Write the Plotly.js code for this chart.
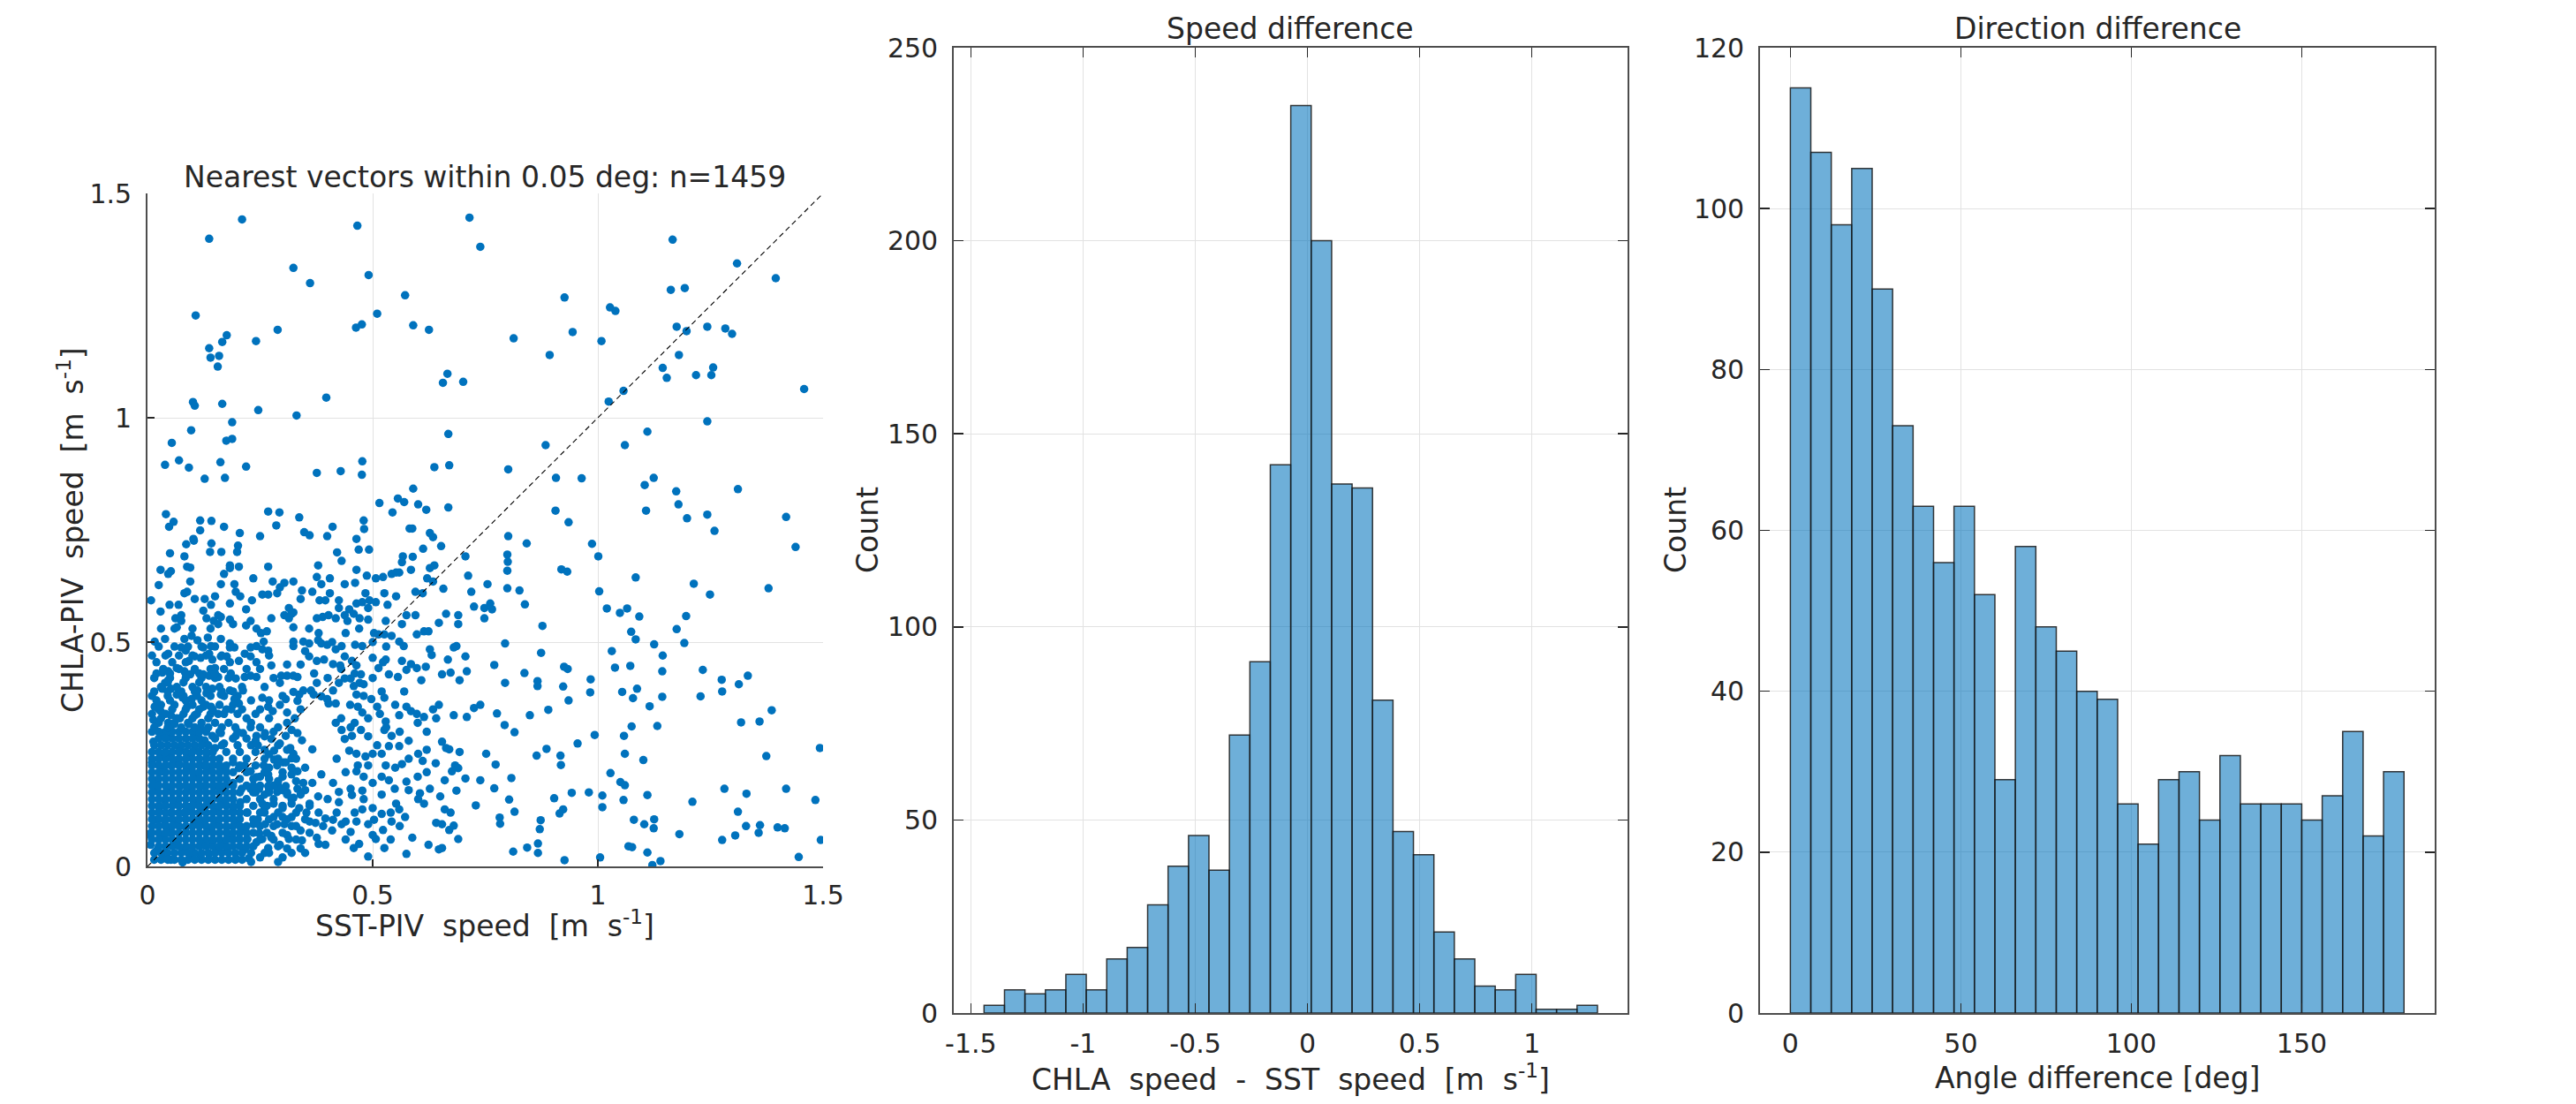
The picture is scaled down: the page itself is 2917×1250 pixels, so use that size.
<!DOCTYPE html>
<html>
<head>
<meta charset="utf-8">
<script src="https://cdn.plot.ly/plotly-3.0.1.min.js"></script>
<style>html,body{margin:0;padding:0;background:#fff;}#chart{width:2917px;height:1250px;}</style>
</head>
<body>
<div id="chart"></div>
<script>
// ---------------- DATA ----------------
// Scatter: [SST-PIV speed, CHLA-PIV speed] (m/s)
const upperPts = [
[.210,1.442],[.137,1.399],[.466,1.428],[.715,1.446],[.739,1.381],[.324,1.334],[.361,1.300],[.491,1.318],[.572,1.273],[.107,1.228],[.510,1.232],[.590,1.206],[.625,1.196],[.463,1.201],[.476,1.208],[.289,1.196],[.241,1.171],[.176,1.184],[.166,1.169],[.137,1.155],[.159,1.138],[.140,1.134],[.156,1.114],[.813,1.177],[.666,1.098],[.656,1.078],[.701,1.080],[.101,1.035],[.105,1.027],[.166,1.031],[.246,1.017],[.397,1.045],[.331,1.005],[.188,.990],[.097,.972],[.054,.944],[.175,.949],[.188,.953],[.668,.964],[.039,.895],[.070,.905],[.092,.889],[.162,.901],[.127,.864],[.172,.866],[.219,.891],[.376,.877],[.429,.881],[.477,.903],[.476,.873],[.637,.890],[.670,.894],[.801,.885],[.590,.842],[.515,.810],[.556,.820],[.570,.812],[.601,.807],[.619,.795],[.668,.800],[.544,.789],[.041,.785],[.058,.768],[.048,.757],[.117,.771],[.117,.749],[.142,.770],[.170,.757],[.205,.743],[.268,.791],[.293,.789],[.286,.760],[.337,.778],[.348,.745],[.360,.738],[.411,.757],[.399,.736],[.250,.736],[.480,.771],[.481,.752],[.464,.730],[.492,.706],[.469,.706],[.421,.700],[.086,.718],[.102,.730],[.103,.726],[.142,.720],[.201,.715],[.199,.701],[.139,.701],[.164,.701],[.050,.698],[.082,.691],[.706,.691],[.582,.753],[.588,.753],[.627,.743],[.634,.734],[.652,.714],[.612,.708],[.589,.690],[.567,.691],[.801,.736],[.842,.720],[.799,.695]
];
const rightPts = [
[.926,1.268],[.944,1.191],[.893,1.140],[1.008,1.171],[1.027,1.246],[1.039,1.238],[1.166,1.397],[1.162,1.285],[1.193,1.289],[1.197,1.193],[1.180,1.140],[1.175,1.203],[1.144,1.111],[1.153,1.089],[1.218,1.095],[1.252,1.095],[1.256,1.112],[1.243,1.203],[1.283,1.199],[1.298,1.187],[1.309,1.344],[1.395,1.311],[1.458,1.064],[1.057,1.060],[1.024,1.036],[1.243,.992],[.884,.939],[.907,.866],[.964,.865],[1.060,.939],[1.110,.969],[1.104,.850],[1.124,.866],[1.174,.836],[1.311,.841],[1.179,.807],[1.198,.776],[1.107,.793],[1.243,.784],[1.259,.748],[1.418,.779],[1.439,.712],[.906,.793],[.935,.767],[.987,.719],[1.001,.691],
[1.379,.620],[1.084,.644],[1.003,.613],[.919,.662],[.932,.657],[1.213,.630],[1.249,.606],[1.196,.558],[1.175,.529],[1.192,.498],[1.074,.523],[1.084,.506],[1.065,.575],[1.092,.557],[1.049,.565],[1.020,.575],[1.125,.495],[1.144,.470],[1.031,.480],[1.038,.443],[1.072,.447],[1.054,.389],[1.087,.396],[1.078,.375],[1.143,.435],[1.233,.438],[1.228,.379],[1.275,.416],[1.276,.390],[1.313,.406],[1.333,.425],[1.115,.357],[1.132,.313],[1.143,.378],[1.075,.312],[1.058,.291],[1.060,.251],[1.101,.237],[1.110,.159],[1.050,.188],[1.060,.181],[1.057,.148],[1.080,.104],[1.103,.094],[1.125,.105],[1.124,.085],[1.110,.031],[1.139,.012],[1.121,.003],[1.068,.045],[1.076,.043],[.980,.165],[1.010,.158],[1.005,.020],[.926,.014],[.915,.118],[.923,.127],[.903,.152],[.873,.103],[.871,.083],[.867,.051],[.867,.030],[.843,.042],[.812,.033],[.815,.122],[.783,.095],[.782,.109],[.770,.174],[.803,.149],[.808,.197],[.773,.227],[.918,.226],[.917,.247],[.886,.262],[.864,.247],[.890,.349],[.955,.274],[.993,.293],[.983,.388],[.984,.417],[.935,.370],[.933,.440],[.925,.445],[.923,.401],[.874,.476],[.837,.431],[.849,.337],[.815,.299],[.793,.315],[.776,.341],[.794,.409],[.770,.449],[.794,.497],[.866,.413],[.866,.402],[.877,.536],[.838,.584],[.826,.615],[.800,.679],[.799,.659],[.799,.620],[1.359,.323],[1.318,.321],[1.386,.348],[1.374,.246],[1.330,.162],[1.311,.122],[1.329,.090],[1.360,.092],[1.357,.075],[1.399,.087],[1.418,.173],[1.415,.085],[1.446,.021],[1.483,.148],[1.493,.264],[1.495,.059],[1.281,.173],[1.276,.059],[1.305,.069],[1.210,.144],[1.181,.072],[1.028,.208],[1.010,.132],[.942,.164]
];
const midPts = [
[.431,.681],[.052,.658],[.029,.661],[.046,.652],[.088,.668],[.095,.666],[.183,.671],[.203,.668],[.268,.668],[.379,.671],[.565,.678],[.585,.661],[.637,.671],[.464,.661],[.487,.648],
[.008,.593],[.025,.627],[.029,.568],[.049,.583],[.069,.583],[.075,.560],[.062,.553],[.082,.609],[.095,.635],[.088,.612],[.105,.596],[.127,.596],[.124,.570],[.141,.583],[.150,.602],[.163,.629],[.170,.652],[.183,.665],[.193,.629],[.196,.612],[.157,.560],[.163,.556],[.183,.586],[.206,.602],[.219,.573],[.232,.593],[.235,.642],[.255,.606],[.278,.635],[.268,.606],[.288,.609],[.294,.622],[.304,.632],[.324,.635],[.314,.576],[.324,.566],[.340,.596],[.343,.615],[.366,.612],[.376,.645],[.386,.629],[.382,.593],[.395,.593],[.405,.642],[.405,.609],[.425,.593],[.425,.576],[.438,.629],[.448,.573],[.464,.586],[.461,.632],[.484,.609],[.477,.589],[.490,.576],[.493,.593],[.507,.642],[.523,.645],[.526,.609],[.533,.583],[.542,.652],[.552,.655],[.559,.655],[.552,.602],[.507,.589],[.595,.612],[.611,.609],[.621,.642],[.634,.635],[.627,.665],[.657,.619],[.712,.648],[.719,.612],[.725,.579],[.748,.576],[.755,.629],[.761,.586],[.765,.573],[.748,.553],
[.016,.501],[.039,.507],[.046,.474],[.075,.547],[.065,.533],[.082,.507],[.098,.514],[.111,.504],[.134,.510],[.141,.491],[.163,.507],[.131,.553],[.147,.547],[.157,.540],[.183,.550],[.190,.540],[.183,.497],[.193,.488],[.219,.537],[.229,.547],[.242,.530],[.252,.520],[.258,.501],[.265,.524],[.242,.491],[.229,.488],[.275,.553],[.304,.560],[.314,.553],[.324,.533],[.320,.563],[.359,.530],[.376,.553],[.389,.556],[.402,.560],[.418,.553],[.438,.560],[.444,.547],[.458,.563],[.471,.553],[.490,.550],[.503,.520],[.513,.517],[.526,.517],[.529,.547],[.542,.514],[.559,.501],[.565,.540],[.575,.560],[.595,.560],[.598,.517],[.569,.491],[.614,.524],[.624,.524],[.647,.543],[.663,.563],[.690,.560],[.690,.540],[.461,.494],[.477,.491],[.324,.501],[.324,.491],[.346,.501],[.359,.497],[.379,.504],[.386,.497],[.399,.494],[.418,.484],[.431,.491],
[.033,.432],[.039,.409],[.046,.435],[.075,.488],[.085,.481],[.105,.468],[.118,.465],[.137,.474],[.144,.461],[.163,.468],[.176,.468],[.183,.455],[.203,.458],[.216,.474],[.229,.468],[.242,.455],[.255,.484],[.268,.481],[.275,.448],[.297,.425],[.310,.425],[.294,.409],[.324,.425],[.333,.422],[.346,.392],[.359,.468],[.376,.458],[.392,.461],[.412,.451],[.428,.448],[.438,.468],[.454,.458],[.464,.448],[.474,.428],[.451,.419],[.471,.409],[.500,.465],[.513,.442],[.523,.455],[.529,.461],[.536,.428],[.556,.422],[.565,.458],[.575,.438],[.585,.451],[.598,.442],[.608,.415],[.618,.445],[.627,.484],[.631,.471],[.654,.428],[.667,.461],[.673,.432],[.680,.488],[.686,.491],[.706,.468],[.709,.435],[.693,.415],[.046,.415],[.065,.442],[.082,.435],[.095,.428],[.105,.438],[.124,.428],[.137,.425],[.150,.442],[.157,.422],[.196,.419],[.216,.422],[.229,.425],[.242,.422],[.092,.458],[.124,.488],[.183,.488],
[.033,.396],[.016,.356],[.013,.327],[.029,.346],[.052,.396],[.065,.383],[.078,.376],[.088,.356],[.098,.373],[.111,.392],[.131,.386],[.144,.396],[.163,.383],[.183,.392],[.193,.373],[.203,.363],[.212,.392],[.186,.350],[.157,.340],[.141,.356],[.124,.356],[.105,.337],[.072,.330],[.052,.337],[.046,.320],[.255,.376],[.268,.356],[.278,.346],[.294,.360],[.307,.373],[.324,.389],[.337,.383],[.310,.343],[.327,.330],[.333,.369],[.363,.392],[.376,.409],[.369,.383],[.386,.379],[.399,.373],[.412,.392],[.402,.363],[.418,.363],[.425,.409],[.438,.419],[.458,.402],[.464,.383],[.480,.406],[.467,.356],[.477,.343],[.490,.330],[.497,.373],[.510,.356],[.516,.340],[.526,.376],[.529,.323],[.559,.337],[.575,.356],[.585,.346],[.598,.340],[.614,.333],[.634,.350],[.647,.360],[.641,.330],[.680,.337],[.709,.333],[.725,.353],[.739,.360],
[.013,.278],[.010,.232],[.029,.297],[.042,.291],[.059,.317],[.075,.304],[.092,.317],[.105,.297],[.118,.310],[.127,.281],[.144,.291],[.163,.297],[.170,.274],[.150,.264],[.131,.251],[.105,.261],[.088,.251],[.072,.264],[.052,.248],[.033,.251],[.196,.291],[.212,.297],[.229,.310],[.242,.291],[.261,.297],[.275,.284],[.281,.258],[.294,.274],[.307,.291],[.320,.304],[.333,.297],[.343,.281],[.317,.264],[.324,.251],[.366,.261],[.418,.320],[.431,.304],[.451,.310],[.454,.291],[.474,.304],[.438,.284],[.448,.258],[.464,.251],[.484,.245],[.500,.251],[.520,.251],[.526,.304],[.542,.291],[.536,.268],[.559,.268],[.601,.251],[.611,.235],[.654,.278],[.663,.264],[.670,.261],[.693,.255],[.752,.251],[.281,.238],[.301,.232],[.320,.241],
[.020,.192],[.016,.173],[.033,.212],[.052,.225],[.069,.232],[.085,.212],[.098,.219],[.111,.205],[.124,.225],[.137,.215],[.157,.225],[.173,.219],[.190,.232],[.203,.219],[.216,.225],[.229,.212],[.242,.199],[.258,.225],[.268,.205],[.288,.225],[.307,.232],[.320,.205],[.333,.212],[.346,.186],[.366,.186],[.386,.205],[.412,.186],[.425,.166],[.451,.173],[.464,.212],[.467,.225],[.490,.225],[.500,.186],[.477,.169],[.454,.159],[.529,.225],[.536,.192],[.549,.173],[.565,.228],[.575,.189],[.605,.163],[.627,.173],[.650,.156],[.660,.192],[.676,.212],[.683,.225],[.690,.219],[.686,.169],[.706,.196],[.729,.136],[.739,.192],[.052,.173],[.072,.179],[.098,.173],[.124,.179],[.150,.179],[.170,.179],[.190,.186],[.209,.173],[.229,.173],[.248,.173],[.268,.179],[.288,.166],[.307,.179],[.333,.173],
[.007,.074],[.016,.104],[.026,.130],[.039,.146],[.052,.120],[.065,.140],[.082,.120],[.095,.133],[.108,.146],[.124,.127],[.141,.140],[.157,.123],[.173,.140],[.190,.127],[.206,.143],[.222,.120],[.235,.094],[.248,.074],[.261,.094],[.275,.068],[.288,.094],[.304,.094],[.324,.153],[.337,.130],[.353,.120],[.373,.097],[.379,.156],[.395,.107],[.412,.104],[.425,.143],[.431,.094],[.451,.077],[.464,.100],[.477,.127],[.490,.094],[.503,.104],[.520,.117],[.523,.081],[.542,.100],[.552,.140],[.559,.127],[.572,.110],[.601,.150],[.614,.140],[.641,.097],[.654,.094],[.660,.127],[.670,.081],[.673,.120],[.680,.091],[.046,.087],[.065,.094],[.085,.087],[.105,.100],[.121,.094],[.137,.081],[.157,.094],[.176,.087],[.196,.100],[.216,.087],[.039,.100],[.033,.068],[.052,.074],
[.000,.071],[.007,.048],[.020,.035],[.036,.028],[.052,.015],[.078,.009],[.098,.028],[.118,.022],[.137,.028],[.157,.035],[.176,.041],[.196,.018],[.216,.038],[.225,.018],[.242,.054],[.268,.041],[.294,.048],[.314,.061],[.343,.058],[.376,.064],[.395,.048],[.458,.041],[.490,.022],[.507,.061],[.526,.041],[.575,.028],[.588,.064],[.624,.048],[.647,.038],[.654,.041],[.690,.061],[.065,.048],[.085,.041],[.124,.048],[.144,.054],[.163,.054],[.183,.061],[.203,.061],[.222,.061],[.255,.061],[.275,.064]
];
// dense core (bottom-left), read as a near-solid blue mass
const corePts = [
[.03,.015],[.06,.015],[.09,.015],[.12,.015],[.15,.015],[.18,.015],[.21,.015],
[.015,.03],[.045,.03],[.075,.03],[.105,.03],[.135,.03],[.165,.03],[.195,.03],[.23,.03],[.26,.03],
[.025,.045],[.055,.045],[.085,.045],[.115,.045],[.145,.045],[.175,.045],[.205,.045],[.235,.045],[.29,.045],
[.01,.06],[.04,.06],[.07,.06],[.1,.06],[.13,.06],[.16,.06],[.19,.06],[.22,.06],[.25,.06],[.28,.06],[.33,.06],
[.025,.075],[.055,.075],[.085,.075],[.115,.075],[.145,.075],[.175,.075],[.205,.075],[.235,.075],[.265,.075],[.3,.075],[.36,.075],
[.01,.09],[.04,.09],[.07,.09],[.1,.09],[.13,.09],[.16,.09],[.19,.09],[.22,.09],[.25,.09],[.28,.09],[.32,.09],
[.025,.105],[.055,.105],[.085,.105],[.115,.105],[.145,.105],[.175,.105],[.205,.105],[.235,.105],[.27,.105],[.31,.105],[.35,.105],
[.01,.12],[.04,.12],[.07,.12],[.1,.12],[.13,.12],[.16,.12],[.19,.12],[.22,.12],[.25,.12],[.29,.12],[.33,.12],
[.025,.135],[.055,.135],[.085,.135],[.115,.135],[.145,.135],[.175,.135],[.205,.135],[.235,.135],[.265,.135],[.3,.135],[.36,.135],
[.01,.15],[.04,.15],[.07,.15],[.1,.15],[.13,.15],[.16,.15],[.19,.15],[.22,.15],[.25,.15],[.28,.15],[.32,.15],
[.025,.165],[.055,.165],[.085,.165],[.115,.165],[.145,.165],[.175,.165],[.205,.165],[.235,.165],[.27,.165],[.31,.165],
[.01,.18],[.04,.18],[.07,.18],[.1,.18],[.13,.18],[.16,.18],[.19,.18],[.22,.18],[.25,.18],[.29,.18],
[.025,.195],[.055,.195],[.085,.195],[.115,.195],[.145,.195],[.175,.195],[.205,.195],[.235,.195],[.27,.195],
[.01,.21],[.04,.21],[.07,.21],[.1,.21],[.13,.21],[.16,.21],[.19,.21],[.22,.21],[.26,.21],[.3,.21],
[.025,.225],[.055,.225],[.085,.225],[.115,.225],[.145,.225],[.175,.225],[.205,.225],[.24,.225],
[.01,.24],[.04,.24],[.07,.24],[.1,.24],[.13,.24],[.16,.24],[.19,.24],[.22,.24],[.26,.24],
[.025,.255],[.055,.255],[.085,.255],[.115,.255],[.145,.255],[.175,.255],[.205,.255],[.24,.255],
[.015,.27],[.045,.27],[.075,.27],[.105,.27],[.135,.27],[.165,.27],[.2,.27],[.23,.27],
[.025,.285],[.055,.285],[.085,.285],[.115,.285],[.15,.285],[.19,.285],[.22,.285],
[.01,.30],[.04,.30],[.07,.30],[.1,.30],[.13,.30],[.16,.30],[.2,.30],
[.025,.32],[.06,.32],[.09,.32],[.12,.32],[.15,.32],[.18,.32],
[.01,.34],[.04,.34],[.08,.34],[.11,.34],[.14,.34],[.17,.34],[.2,.34],
[.03,.36],[.06,.36],[.1,.36],[.13,.36],[.16,.36],[.19,.36],
[.01,.38],[.045,.38],[.08,.38],[.11,.38],[.14,.38],[.17,.38],[.2,.38],
[.03,.40],[.065,.40],[.1,.40],[.13,.40],[.16,.40],
[.015,.42],[.05,.42],[.085,.42],[.12,.42],[.15,.42],[.18,.42],
[.035,.44],[.07,.44],[.105,.44],[.14,.44],[.17,.44]
];
const corePtsB = [
[.015,.015],[.045,.015],[.075,.015],[.105,.015],[.135,.015],[.165,.015],[.195,.015],
[.03,.03],[.06,.03],[.09,.03],[.12,.03],[.15,.03],[.18,.03],[.21,.03],
[.04,.045],[.07,.045],[.1,.045],[.13,.045],[.16,.045],[.19,.045],[.22,.045],
[.025,.06],[.055,.06],[.085,.06],[.115,.06],[.145,.06],[.175,.06],[.205,.06],
[.01,.075],[.04,.075],[.07,.075],[.1,.075],[.13,.075],[.16,.075],[.19,.075],[.22,.075],
[.025,.09],[.055,.09],[.085,.09],[.115,.09],[.145,.09],[.175,.09],[.205,.09],
[.01,.105],[.04,.105],[.07,.105],[.1,.105],[.13,.105],[.16,.105],[.19,.105],
[.025,.12],[.055,.12],[.085,.12],[.115,.12],[.145,.12],[.175,.12],[.205,.12],
[.01,.135],[.04,.135],[.07,.135],[.1,.135],[.13,.135],[.16,.135],[.19,.135],
[.025,.15],[.055,.15],[.085,.15],[.115,.15],[.145,.15],[.175,.15],
[.01,.165],[.04,.165],[.07,.165],[.1,.165],[.13,.165],[.16,.165],[.19,.165],
[.025,.18],[.055,.18],[.085,.18],[.115,.18],[.145,.18],[.175,.18],
[.01,.195],[.04,.195],[.07,.195],[.1,.195],[.13,.195],[.16,.195],
[.025,.21],[.055,.21],[.085,.21],[.115,.21],[.145,.21],[.175,.21],
[.01,.225],[.04,.225],[.07,.225],[.1,.225],[.13,.225],[.16,.225],
[.025,.24],[.055,.24],[.085,.24],[.115,.24],[.145,.24],
[.01,.255],[.04,.255],[.07,.255],[.1,.255],[.13,.255],
[.03,.27],[.06,.27],[.09,.27],[.12,.27],
[.04,.285],[.07,.285],[.1,.285],
[.025,.30],[.055,.30],[.085,.30],[.115,.30],
[.03,.33],[.065,.33],[.1,.33],[.135,.33],
[.02,.37],[.05,.37],[.085,.37],[.12,.37],
[.045,.41],[.08,.41],[.115,.41],
[.02,.455],[.055,.455],[.085,.455]
];
// upper part of the dense blob (left side, 0.3-0.55) and its right fringe
const corePtsC = [
[.015,.31],[.045,.31],[.075,.31],[.105,.31],[.135,.31],[.165,.31],[.195,.31],
[.025,.35],[.055,.35],[.085,.35],[.115,.35],[.145,.35],[.175,.35],[.21,.35],
[.015,.39],[.045,.39],[.075,.39],[.105,.39],[.135,.39],[.165,.39],[.19,.39],
[.02,.43],[.05,.43],[.085,.43],[.115,.43],[.15,.43],[.185,.43],
[.01,.47],[.04,.47],[.07,.47],[.1,.47],[.13,.47],[.165,.47],
[.025,.49],[.06,.49],[.09,.49],[.12,.49],[.15,.49],
[.03,.53],[.06,.53],[.1,.53],[.14,.53]
];
const fringePts = [
[.23,.01],[.25,.02],[.27,.03],[.29,.01],[.31,.04],[.245,.105],[.255,.14],[.24,.165],[.235,.18],[.25,.2],[.26,.16],[.28,.18],[.3,.2],[.32,.22],[.27,.22],[.29,.24],[.31,.26],[.245,.27],[.26,.29],[.28,.3],[.23,.32],[.25,.35],[.27,.37],[.3,.38],[.26,.13],[.3,.13],[.32,.11],[.34,.08],[.31,.07],[.28,.11],[.27,.17],[.3,.17],[.33,.19],[.35,.17],[.34,.04]
];
const spreadPts = [
[.26,.12],[.28,.14],[.30,.11],[.32,.14],[.29,.19],[.31,.16],[.27,.25],[.29,.27],[.33,.24],[.35,.22],[.34,.16],[.36,.14],[.38,.12],[.40,.15],[.42,.12],[.44,.10],[.41,.08],[.38,.05],[.35,.03],[.32,.03],[.30,.02],[.33,.09],[.36,.10],[.39,.09],[.44,.06],[.47,.05],[.46,.12],[.48,.15],[.50,.13],[.52,.16],[.50,.07],[.54,.06],[.56,.09],[.54,.12],[.58,.17],[.60,.20],[.62,.21],[.58,.24],[.55,.22],[.52,.20],[.48,.20],[.44,.21],[.42,.24],[.43,.33],[.46,.32],[.49,.29],[.51,.27],[.53,.31],[.56,.30],[.58,.28],[.62,.26],[.64,.23],[.62,.30],[.60,.32],[.57,.39],[.55,.36],[.52,.39],[.50,.42],[.48,.38],[.45,.36],[.34,.35],[.31,.32],[.29,.31],[.27,.33],[.26,.40],[.28,.42],[.31,.45],[.34,.45],[.37,.43],[.40,.42],[.43,.44],[.46,.43],[.35,.48],[.38,.52],[.41,.50],[.44,.52],[.47,.53],[.50,.50],[.53,.49],[.27,.47],[.25,.44],[.22,.44],[.21,.40],[.23,.37],[.24,.34],[.22,.33],[.25,.31],[.26,.26],[.24,.28]
];

// Histogram of speed difference (CHLA - SST), 30 bins
const speedBinStart = -1.441;
const speedBinWidth = 0.0911;
const speedCounts = [2,6,5,6,10,6,14,17,28,38,46,37,72,91,142,235,200,137,136,81,47,41,21,14,7,6,10,1,1,2];

// Histogram of direction difference, 30 bins of 6 deg
const angleBinStart = 0;
const angleBinWidth = 6;
const angleCounts = [115,107,98,105,90,73,63,56,63,52,29,58,48,45,40,39,26,21,29,30,24,32,26,26,26,24,27,35,22,30];

// Tick labels
const scatterTicks = [0, 0.5, 1, 1.5];
const scatterTickText = ['0', '0.5', '1', '1.5'];
const speedXTicks = [-1.5, -1, -0.5, 0, 0.5, 1];
const speedXTickText = ['-1.5', '-1', '-0.5', '0', '0.5', '1'];
const speedYTicks = [0, 50, 100, 150, 200, 250];
const angleXTicks = [0, 50, 100, 150];
const angleYTicks = [0, 20, 40, 60, 80, 100, 120];

// ---------------- PLOT ----------------
const allPts = upperPts.concat(rightPts, midPts, corePts, corePtsB, corePtsC, fringePts, spreadPts);
const scX = allPts.map(p => p[0]);
const scY = allPts.map(p => p[1]);

const speedX = speedCounts.map((c, i) => speedBinStart + (i + 0.5) * speedBinWidth);
const angleX = angleCounts.map((c, i) => angleBinStart + (i + 0.5) * angleBinWidth);

const FONT = '"DejaVu Sans", sans-serif';
const TXT = '#262626';
const barFill = 'rgba(0,114,189,0.57)';
const barEdge = 'rgba(25,25,25,0.85)';
const LBL = 33;

const traces = [
  {type: 'scatter', mode: 'markers', x: scX, y: scY, xaxis: 'x', yaxis: 'y',
   marker: {size: 9.5, color: '#0072BD', line: {width: 0}}, hoverinfo: 'x+y'},
  {type: 'scatter', mode: 'lines', x: [scatterTicks[0], scatterTicks[3]], y: [scatterTicks[0], scatterTicks[3]],
   xaxis: 'x', yaxis: 'y', line: {color: '#000', width: 1.1, dash: '6px,4px'}, hoverinfo: 'skip'},
  {type: 'bar', x: speedX, y: speedCounts, width: speedBinWidth, xaxis: 'x2', yaxis: 'y2',
   marker: {color: barFill, line: {color: barEdge, width: 1.5}}},
  {type: 'bar', x: angleX, y: angleCounts, width: angleBinWidth, xaxis: 'x3', yaxis: 'y3',
   marker: {color: barFill, line: {color: barEdge, width: 1.5}}}
];

function ax(extra) {
  return Object.assign({
    showgrid: true, gridcolor: '#e2e2e2', gridwidth: 1,
    zeroline: false, showline: true, linecolor: '#4d4d4d', linewidth: 1.8,
    ticks: 'inside', tickcolor: '#262626', tickwidth: 1.5,
    tickfont: {family: FONT, size: 30, color: TXT},
    ticklabelstandoff: 10,
    fixedrange: true
  }, extra);
}

const W = 2917, H = 1250;
const px = v => v / W;
const py = v => 1 - v / H;
function note(text, x, y, angle) {
  return {text: text, x: px(x), y: py(y), xref: 'paper', yref: 'paper', xanchor: 'center', yanchor: 'middle',
          textangle: angle || 0, showarrow: false, font: {family: FONT, size: LBL, color: TXT}};
}

const layout = {
  width: W, height: H,
  margin: {l: 0, r: 0, t: 0, b: 0, pad: 0},
  paper_bgcolor: '#fff', plot_bgcolor: 'rgba(0,0,0,0)',
  showlegend: false, bargap: 0,
  font: {family: FONT, color: TXT, size: 30},
  xaxis: ax({domain: [px(167), px(932)], anchor: 'y', range: [0, 1.5], tickvals: scatterTicks, ticktext: scatterTickText, ticklen: 8, ticklabelstandoff: 5}),
  yaxis: ax({domain: [py(981), py(219)], anchor: 'x', range: [0, 1.5], tickvals: scatterTicks, ticktext: scatterTickText, ticklen: 8}),
  xaxis2: ax({domain: [px(1080), px(1843)], anchor: 'y2', range: [-1.576, 1.426], tickvals: speedXTicks, ticktext: speedXTickText, ticklen: 11, mirror: 'ticks', ticklabelstandoff: 7}),
  yaxis2: ax({domain: [py(1147), py(54)], anchor: 'x2', range: [0, 250], tickvals: speedYTicks, ticklen: 11, mirror: 'ticks'}),
  xaxis3: ax({domain: [px(1993), px(2757)], anchor: 'y3', range: [-8.9, 189], tickvals: angleXTicks, ticklen: 11, mirror: 'ticks', ticklabelstandoff: 7}),
  yaxis3: ax({domain: [py(1147), py(54)], anchor: 'x3', range: [0, 120], tickvals: angleYTicks, ticklen: 11, mirror: 'ticks'}),
  annotations: [
    note('Nearest vectors within 0.05 deg: n=1459', 549, 200),
    note('SST-PIV  speed  [m  s<sup>-1</sup>]', 549, 1046),
    note('CHLA-PIV  speed  [m  s<sup>-1</sup>]', 80, 600, -90),
    note('Speed difference', 1461, 33),
    note('CHLA  speed  -  SST  speed  [m  s<sup>-1</sup>]', 1461, 1220),
    note('Count', 982, 600, -90),
    note('Direction difference', 2375, 33),
    note('Angle difference [deg]', 2375, 1220),
    note('Count', 1897, 600, -90)
  ]
};

Plotly.newPlot('chart', traces, layout, {staticPlot: true, displayModeBar: false});
</script>
</body>
</html>
